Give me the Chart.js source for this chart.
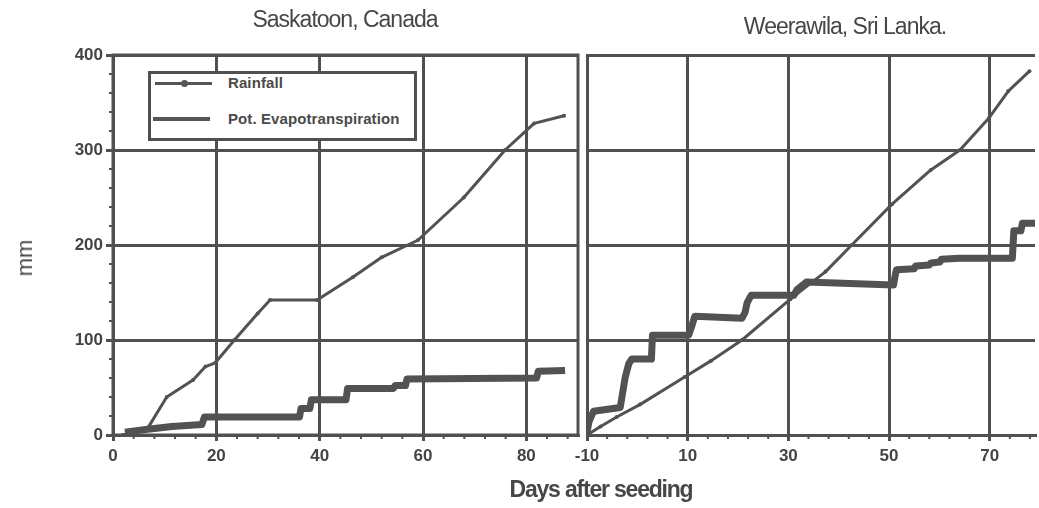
<!DOCTYPE html>
<html>
<head>
<meta charset="utf-8">
<script src="https://cdn.jsdelivr.net/npm/chart.js@4.4.1/dist/chart.umd.min.js"></script>
<style>
    body { margin: 0; background: #fff; }
    #wrap {
        position: relative; width: 1039px; height: 508px; overflow: hidden;
        font-family: "Liberation Sans", Arial, sans-serif; color: #474747;
    }
    canvas { position: absolute; top: 0; }
    #skChart { left: 0; }
    #wlChart { left: 560px; }
    .title { position: absolute; font-size: 23px; letter-spacing: -1px; white-space: nowrap; transform: translateX(-50%); }
    #xTitle { position: absolute; left: 601px; top: 476px; font-size: 23px; font-weight: bold; letter-spacing: -1.2px; transform: translateX(-50%); white-space: nowrap; }
    #yTitle { position: absolute; left: 25px; top: 258px; font-size: 22px; transform: translate(-50%, -50%) rotate(-90deg); }
    .legend-box { position: absolute; left: 148px; top: 71px; width: 263px; height: 64px; border: 3px solid #505050; background: #fff; }
    .legend-line { position: absolute; background: #555; }
    .legend-dot { position: absolute; width: 7px; height: 7px; border-radius: 50%; background: #555; }
    .legend-text { position: absolute; font-size: 15px; font-weight: bold; white-space: nowrap; color: #4a4a4a; letter-spacing: 0.1px; }
</style>
</head>
<body>
<div id="wrap">
    <canvas id="skChart" width="584" height="508"></canvas>
    <canvas id="wlChart" width="479" height="508"></canvas>

    <div class="title" style="left:345px; top:6px;">Saskatoon, Canada</div>
    <div class="title" style="left:845px; top:13px;">Weerawila, Sri Lanka.</div>
    <div id="yTitle">mm</div>
    <div id="xTitle">Days after seeding</div>

    <div class="legend-box"></div>
    <div class="legend-line" style="left:155px; top:82px; width:57px; height:3px;"></div>
    <div class="legend-dot" style="left:181px; top:80px;"></div>
    <div class="legend-text" style="left:228px; top:74px;">Rainfall</div>
    <div class="legend-line" style="left:153px; top:117px; width:57px; height:4px;"></div>
    <div class="legend-text" style="left:228px; top:110px;">Pot. Evapotranspiration</div>
</div>

<script>
// axis ticks
const yTicks = [0, 100, 200, 300, 400];
const skTicksX = [0, 20, 40, 60, 80];
const wlTicksX = [-10, 10, 30, 50, 70];

// Saskatoon, Canada (cumulative mm vs days after seeding)
const skRainDays = [1.9, 6.7, 10.4, 15.5, 17.9, 19.8, 23.5, 28, 30.4, 39.5, 46.4, 52, 59, 67.9, 75.9, 81.5, 87.3];
const skRain     = [0, 7, 40, 58, 72, 76, 100, 128, 142, 142, 166, 187, 205, 250, 300, 328, 336];
const skEtDays   = [2.3, 6.7, 11.4, 17.2, 17.7, 36.1, 36.4, 38.1, 38.4, 45.1, 45.4, 54.3, 54.6, 56.6, 56.9, 82, 82.3, 87.5];
const skEt       = [3, 6, 9, 11, 19, 19, 28, 28, 37, 37, 49, 49, 52, 52, 59, 60, 67, 68];

// Weerawila, Sri Lanka
const wlRainDays = [-10, -7.3, -4.1, 0.5, 9.4, 14.6, 20.8, 30.4, 37.4, 42.6, 50.6, 58.3, 64.1, 69.9, 73.7, 77.9];
const wlRain     = [0, 9, 19, 32, 61, 78, 100, 143, 172, 200, 243, 279, 300, 334, 362, 383];
const wlEtDays   = [-10, -9.6, -8.7, -3.4, -2.4, -1.7, -1.1, 2.8, 3.0, 10.2, 10.9, 11.4, 20.8, 21.4, 21.8, 22.6, 31.1, 31.7, 33.6,
                    50.9, 51.3, 51.5, 55, 55.3, 58, 58.3, 60.1, 60.4, 64, 74.5, 74.8, 76.2, 76.5, 79];
const wlEt       = [3, 14, 25, 29, 61, 75, 80, 80, 105, 105, 116, 125, 123, 129, 139, 147, 147, 153, 161,
                    158, 170, 174, 175, 178, 179, 181, 182, 185, 186, 186, 215, 215, 223, 223];

const INK = '#505050';
const LINE = '#525252';
const tickFont = { family: '"Liberation Sans", Arial, sans-serif', size: 17, weight: 'bold' };

// small minor tick marks along the axes + optional frame
const axisExtras = {
    id: 'axisExtras',
    afterDraw(chart, args, opts) {
        const { ctx, chartArea: a, scales } = chart;
        ctx.save();
        ctx.strokeStyle = INK;
        ctx.lineWidth = 2;
        ctx.beginPath();
        for (let d = scales.x.min; d <= scales.x.max; d += 4) {
            const px = scales.x.getPixelForValue(d);
            ctx.moveTo(px, a.bottom);
            ctx.lineTo(px, a.bottom + 4);
        }
        if (opts.yMinor) {
            for (let v = 0; v <= 400; v += 20) {
                const py = scales.y.getPixelForValue(v);
                ctx.moveTo(a.left - 4, py);
                ctx.lineTo(a.left, py);
            }
        }
        ctx.stroke();
        if (opts.frame) {
            ctx.lineWidth = 3;
            ctx.strokeRect(a.left, a.top, a.right - a.left, a.bottom - a.top);
        }
        ctx.restore();
    }
};

function points(days, values) {
    return days.map((d, i) => ({ x: d, y: values[i] }));
}

function buildChart(canvasId, cfg) {
    const ctx = document.getElementById(canvasId);
    return new Chart(ctx, {
        type: 'line',
        data: {
            datasets: [
                {
                    label: 'Rainfall',
                    data: points(cfg.rainDays, cfg.rain),
                    borderColor: LINE,
                    borderWidth: 3,
                    borderJoinStyle: 'round',
                    pointRadius: 2,
                    pointBackgroundColor: LINE,
                    pointBorderWidth: 0,
                    tension: 0,
                    order: 1
                },
                {
                    label: 'Pot. Evapotranspiration',
                    data: points(cfg.etDays, cfg.et),
                    borderColor: LINE,
                    borderWidth: 7,
                    borderJoinStyle: 'round',
                    pointRadius: 0,
                    order: 2
                }
            ]
        },
        options: {
            responsive: false,
            devicePixelRatio: 1,
            animation: false,
            layout: { padding: cfg.padding },
            plugins: {
                legend: { display: false },
                tooltip: { enabled: false },
                axisExtras: { frame: cfg.frame, yMinor: cfg.yMinor }
            },
            scales: {
                x: {
                    type: 'linear',
                    min: cfg.xMin,
                    max: cfg.xMax,
                    afterBuildTicks: s => { s.ticks = cfg.xTicks.map(v => ({ value: v })); },
                    afterFit: s => { s.height = 35; },
                    ticks: { font: tickFont, color: '#444', padding: 5, maxRotation: 0 },
                    grid: { color: INK, lineWidth: 3, tickLength: 6, tickColor: INK },
                    border: { color: INK, width: 3 }
                },
                y: {
                    min: 0,
                    max: 400,
                    afterBuildTicks: s => { s.ticks = yTicks.map(v => ({ value: v })); },
                    afterFit: s => { s.width = cfg.yWidth; },
                    ticks: { display: cfg.yLabels, font: tickFont, color: '#444', padding: 3 },
                    grid: { color: INK, lineWidth: 3, tickLength: 7, drawTicks: cfg.yLabels, tickColor: INK },
                    border: { color: INK, width: 3 }
                }
            }
        },
        plugins: [axisExtras]
    });
}

document.addEventListener('DOMContentLoaded', () => {
    buildChart('skChart', {
        rainDays: skRainDays, rain: skRain, etDays: skEtDays, et: skEt,
        xMin: 0, xMax: 90, xTicks: skTicksX,
        yWidth: 113, yLabels: true, frame: true, yMinor: true,
        padding: { left: 0, right: 6, top: 55, bottom: 38 }
    });
    buildChart('wlChart', {
        rainDays: wlRainDays, rain: wlRain, etDays: wlEtDays, et: wlEt,
        xMin: -10, xMax: 79, xTicks: wlTicksX,
        yWidth: 27, yLabels: false, frame: false, yMinor: false,
        padding: { left: 0, right: 0, top: 55, bottom: 38 }
    });
});
</script>
</body>
</html>
